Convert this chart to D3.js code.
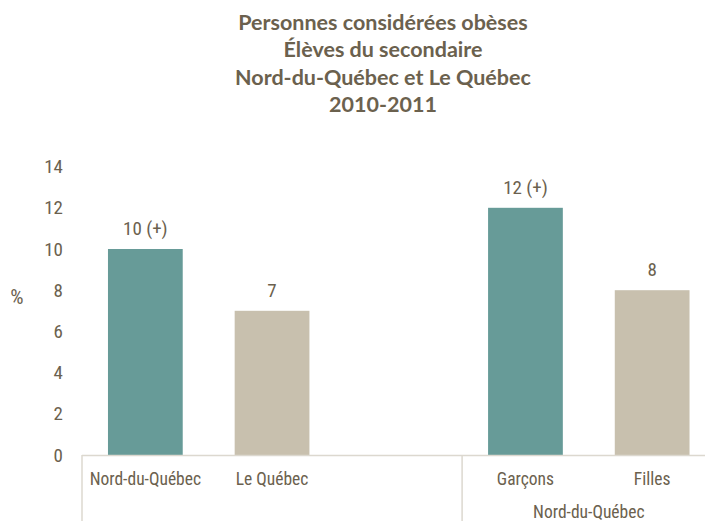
<!DOCTYPE html>
<head>
  <meta charset="utf-8">
  <script src="https://d3js.org/d3.v7.min.js"></script>
  <style>
    body { margin: 0; background: #fff; }
    svg { display: block; }
    .title { font-family: "Lato", "Open Sans", sans-serif; font-weight: bold; font-size: 21.5px; fill: #6b614e; }
    .narrow { font-family: "Liberation Sans Narrow", "Arial Narrow", "Roboto Condensed", sans-serif; fill: #6b614e; }
  </style>
</head>
<body>
  <svg width="705" height="521"></svg>
  <script>
    var titleLines = ['Personnes considérées obèses', 'Élèves du secondaire', 'Nord-du-Québec et Le Québec', '2010-2011'];
    var categories = ['Nord-du-Québec', 'Le Québec', '', 'Garçons', 'Filles'];
    var values = [10, 7, null, 12, 8];
    var valueLabels = ['10 (+)', '7', '', '12 (+)', '8'];
    var barColors = ['#679b98', '#c8c0ae', null, '#679b98', '#c8c0ae'];
    var groupLabel = 'Nord-du-Québec';
    var yTicks = [0, 2, 4, 6, 8, 10, 12, 14];

    var svg = d3.select('svg');
    var left = 82, slotW = 126.7;
    var x = d3.scaleBand()
      .domain(d3.range(categories.length))
      .range([left, left + slotW * categories.length])
      .paddingInner(0.41).paddingOuter(0.205);
    var y = d3.scaleLinear().domain([0, 14]).range([455, 166.6]);

    // title
    svg.selectAll('text.title')
      .data(titleLines).enter().append('text')
      .attr('class', 'title')
      .attr('x', 383)
      .attr('y', function(d, i) { return 30 + i * 27.3; })
      .attr('text-anchor', 'middle')
      .text(function(d) { return d; });

    // y axis labels, no line
    var yAxis = svg.append('g')
      .attr('transform', 'translate(63,0)')
      .call(d3.axisLeft(y).tickValues(yTicks).tickSize(0).tickPadding(0));
    yAxis.select('.domain').remove();
    yAxis.selectAll('text')
      .attr('class', 'narrow')
      .style('font-size', '19px')
      .attr('fill', '#6b614e');

    svg.append('text')
      .attr('class', 'narrow')
      .attr('x', 17).attr('y', 304)
      .attr('text-anchor', 'middle')
      .style('font-size', '21px')
      .text('%');

    // bars
    var idx = d3.range(categories.length).filter(function(i) { return values[i] != null; });
    svg.selectAll('rect.bar')
      .data(idx).enter().append('rect')
      .attr('class', 'bar')
      .attr('x', function(i) { return x(i); })
      .attr('width', x.bandwidth())
      .attr('y', function(i) { return y(values[i]); })
      .attr('height', function(i) { return y(0) - y(values[i]); })
      .attr('fill', function(i) { return barColors[i]; });

    svg.selectAll('text.val')
      .data(idx).enter().append('text')
      .attr('class', 'narrow')
      .attr('x', function(i) { return x(i) + x.bandwidth() / 2; })
      .attr('y', function(i) { return y(values[i]) - 14; })
      .attr('text-anchor', 'middle')
      .style('font-size', '19px')
      .text(function(i) { return valueLabels[i]; });

    // category axis box
    var lineColor = '#dcd8cf';
    svg.append('line')
      .attr('x1', left).attr('x2', 705)
      .attr('y1', y(0) + 0.5).attr('y2', y(0) + 0.5)
      .attr('stroke', lineColor).attr('stroke-width', 1.5);
    [left, left + slotW * 3].forEach(function(xx) {
      svg.append('line')
        .attr('x1', xx).attr('x2', xx)
        .attr('y1', y(0)).attr('y2', 521)
        .attr('stroke', lineColor).attr('stroke-width', 1.5);
    });

    svg.selectAll('text.cat')
      .data(idx).enter().append('text')
      .attr('class', 'narrow')
      .attr('x', function(i) { return x(i) + x.bandwidth() / 2; })
      .attr('y', 485)
      .attr('text-anchor', 'middle')
      .style('font-size', '17.5px')
      .text(function(i) { return categories[i]; });

    svg.append('text')
      .attr('class', 'narrow')
      .attr('x', (x(3) + x(4) + x.bandwidth()) / 2)
      .attr('y', 518)
      .attr('text-anchor', 'middle')
      .style('font-size', '17.5px')
      .text(groupLabel);
  </script>
</body>
